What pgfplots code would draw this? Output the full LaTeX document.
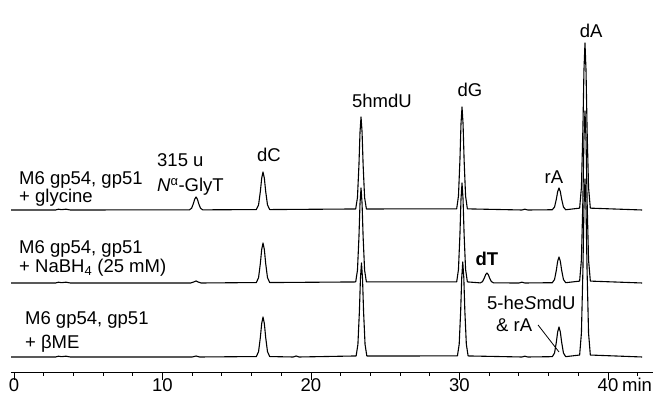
\documentclass[border=0pt]{standalone}
\usepackage{pgfplots}
\usepackage{pgfplotstable}
\pgfplotsset{compat=1.18}
\usepackage{fontspec}
\setmainfont{Liberation Sans}
\newcommand{\lf}{\fontsize{18.5}{22}\selectfont}

\pgfplotstableread{
x y
-0.2 0
2.8 0
3.0 0.8
3.2 0.3
3.5 0.8
3.8 0
11.81 0.14
11.96 1.76
12.08 6.33
12.17 10.86
12.26 13
12.35 10.86
12.44 6.33
12.56 1.76
12.71 0.14
16.32 0.42
16.47 5.13
16.59 18.51
16.68 31.73
16.77 38
16.86 31.73
16.95 18.51
17.07 5.13
17.22 0.42
23.01 1.02
23.13 12.56
23.23 45.29
23.30 77.66
23.37 93
23.44 77.66
23.51 45.29
23.61 12.56
23.73 1.02
29.81 1.13
29.93 13.91
30.03 50.16
30.10 86.01
30.17 103
30.24 86.01
30.31 50.16
30.41 13.91
30.53 1.13
34.2 0
34.4 0.8
34.6 0
36.25 0.24
36.40 2.97
36.52 10.71
36.61 18.37
36.70 22
36.79 18.37
36.88 10.71
37.00 2.97
37.15 0.24
38.09 1.84
38.21 22.55
38.31 81.33
38.38 139.45
38.45 167
38.52 139.45
38.59 81.33
38.69 22.55
38.81 1.84
42.3 0
}\traceA

\pgfplotstableread{
x y
-0.2 0
2.8 0
3.0 0.8
3.2 0.3
3.5 0.8
3.8 0
11.9 0
12.1 1
12.26 2
12.4 1
12.6 0
16.32 0.44
16.47 5.4
16.59 19.48
16.68 33.4
16.77 40
16.86 33.4
16.95 19.48
17.07 5.4
17.22 0.44
23.01 1.05
23.13 12.83
23.23 46.27
23.30 79.33
23.37 95
23.44 79.33
23.51 46.27
23.61 12.83
23.73 1.05
29.81 1.1
29.93 13.5
30.03 48.7
30.10 83.5
30.17 100
30.24 83.5
30.31 48.7
30.41 13.5
30.53 1.1
31.40 0.11
31.55 1.35
31.67 4.87
31.76 8.35
31.85 10
31.94 8.35
32.03 4.87
32.15 1.35
32.30 0.11
34.0 0
34.2 0.8
34.4 0
36.25 0.29
36.40 3.51
36.52 12.66
36.61 21.71
36.70 26
36.79 21.71
36.88 12.66
37.00 3.51
37.15 0.29
38.09 1.89
38.21 23.22
38.31 83.76
38.38 143.62
38.45 172
38.52 143.62
38.59 83.76
38.69 23.22
38.81 1.89
42.3 0
}\traceB

\pgfplotstableread{
x y
-0.2 0
2.8 0
3.0 0.8
3.2 0.3
3.5 0.8
3.8 0
12.0 0
12.26 1
12.5 0
16.32 0.44
16.47 5.4
16.59 19.48
16.68 33.4
16.77 40
16.86 33.4
16.95 19.48
17.07 5.4
17.22 0.44
18.8 0
19.0 1
19.2 0
23.04 1.03
23.16 12.69
23.26 45.78
23.33 78.49
23.40 94
23.47 78.49
23.54 45.78
23.64 12.69
23.76 1.03
29.86 1.05
29.98 12.83
30.08 46.27
30.15 79.33
30.22 95
30.29 79.33
30.36 46.27
30.46 12.83
30.58 1.05
34.2 0
34.4 0.8
34.6 0
36.25 0.33
36.40 4.05
36.52 14.61
36.61 25.05
36.70 30
36.79 25.05
36.88 14.61
37.00 4.05
37.15 0.33
38.09 1.96
38.21 24.03
38.31 86.69
38.38 148.63
38.45 178
38.52 148.63
38.59 86.69
38.69 24.03
38.81 1.96
42.3 0
}\traceC

\begin{document}
\begin{tikzpicture}
\begin{axis}[
  width=642pt, height=372pt, scale only axis,
  xmin=-0.2, xmax=43.03, ymin=0, ymax=372,
  axis x line*=bottom, axis y line=none,
  x axis line style={line width=0.9pt},
  xtick={0,10,20,30,40},
  xticklabels={0,10,20,30,40},
  minor xtick={2,4,6,8,12,14,16,18,22,24,26,28,32,34,36,38,42},
  tick align=outside,
  major tick length=8pt, minor tick length=4pt,
  every tick/.style={black, line width=0.9pt},
  xticklabel style={font=\lf, anchor=north, inner sep=0pt, yshift=2pt},
  clip=false,
]
\path (axis cs:-0.941,-23) rectangle (axis cs:43.165,372);
\addplot[black, line width=1.1pt, line join=round] table[x=x, y expr=\thisrow{y}+162] {\traceA};
\addplot[black, line width=1.1pt, line join=round] table[x=x, y expr=\thisrow{y}+89] {\traceB};
\addplot[black, line width=1.1pt, line join=round] table[x=x, y expr=\thisrow{y}+15] {\traceC};

\node[font=\lf, anchor=base west, inner sep=0pt] at (axis cs:0.34,187) {M6 gp54, gp51};
\node[font=\lf, anchor=base west, inner sep=0pt] at (axis cs:0.34,169) {+ glycine};
\node[font=\lf, anchor=base west, inner sep=0pt] at (axis cs:0.34,118) {M6 gp54, gp51};
\node[font=\lf, anchor=base west, inner sep=0pt] at (axis cs:0.34,99) {+ NaBH\textsubscript{4} (25 mM)};
\node[font=\lf, anchor=base west, inner sep=0pt] at (axis cs:0.74,47) {M6 gp54, gp51};
\node[font=\lf, anchor=base west, inner sep=0pt] at (axis cs:0.74,23) {+ βME};

\node[font=\lf, anchor=base west, inner sep=0pt] at (axis cs:9.63,205) {315 u};
\node[font=\lf, anchor=base west, inner sep=0pt] at (axis cs:9.63,180) {\textit{N}\textsuperscript{α}-GlyT};
\node[font=\lf, anchor=base, inner sep=0pt] at (axis cs:17.17,210) {dC};
\node[font=\lf, anchor=base, inner sep=0pt] at (axis cs:24.78,264) {5hmdU};
\node[font=\lf, anchor=base, inner sep=0pt] at (axis cs:30.71,275) {dG};
\node[font=\lf, anchor=base, inner sep=0pt] at (axis cs:36.36,188) {rA};
\node[font=\lf, anchor=base, inner sep=0pt] at (axis cs:38.86,334) {dA};
\node[font=\lf, anchor=base, inner sep=0pt] at (axis cs:31.85,106) {\textbf{dT}};
\node[font=\lf, anchor=base west, inner sep=0pt] at (axis cs:31.85,62) {5-he\textit{S}mdU};
\node[font=\lf, anchor=base west, inner sep=0pt] at (axis cs:32.46,40) {\& rA};
\draw[black, line width=0.8pt] (axis cs:35.29,47) -- (axis cs:36.70,20);
\node[font=\lf, anchor=base west, inner sep=0pt] at (axis cs:40.94,-20) {min};
\end{axis}
\end{tikzpicture}
\end{document}
